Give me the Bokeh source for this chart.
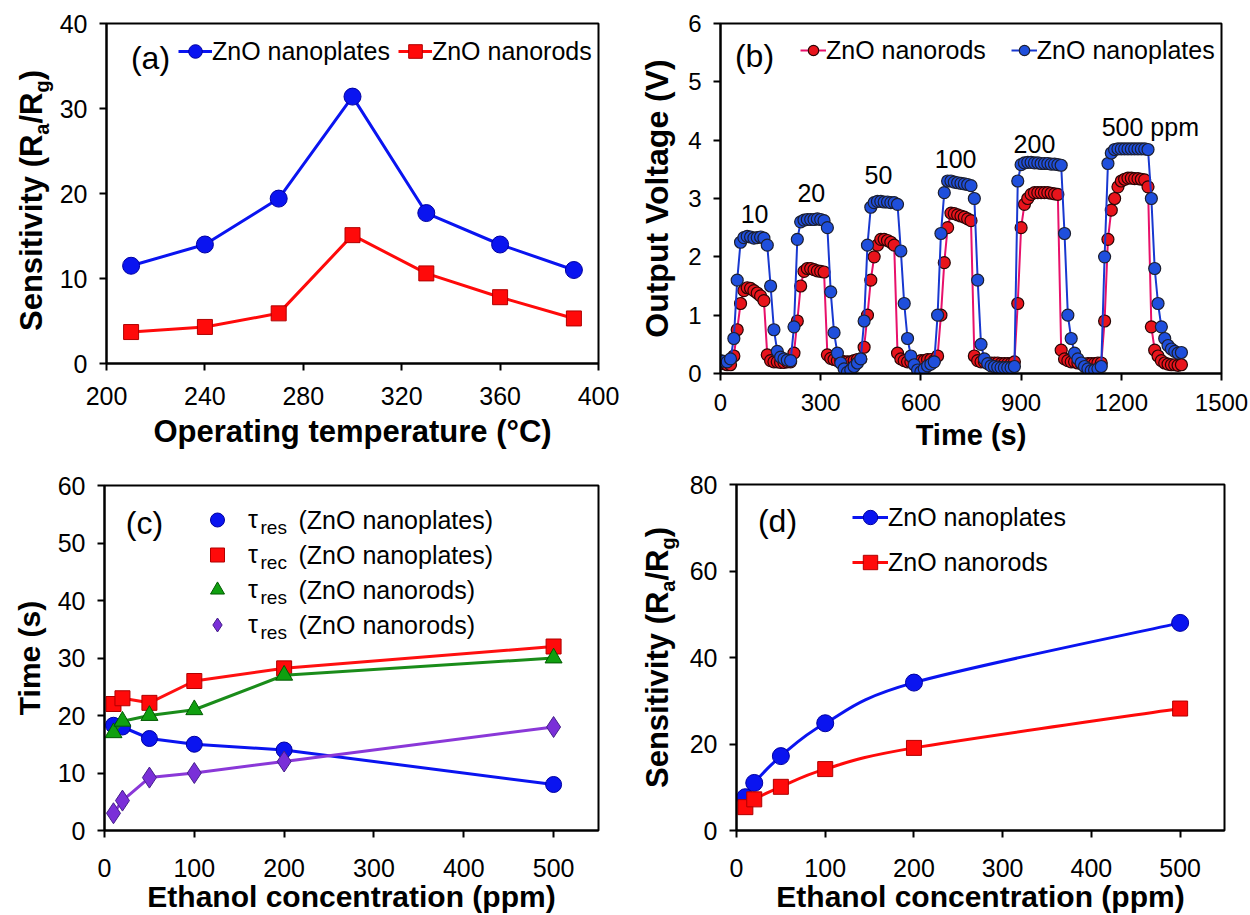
import math
from bokeh.plotting import figure
from bokeh.models import Label, Legend, LegendItem, Range1d, FixedTicker
from bokeh.layouts import column, row
from bokeh.embed import file_html
from bokeh.resources import INLINE

FONT = "Liberation Sans"

# ---------------- data: panel (a) ----------------
temperature = [210, 240, 270, 300, 330, 360, 390]
sens_plates_temp = [11.5, 14.0, 19.4, 31.4, 17.7, 14.0, 11.0]
sens_rods_temp = [3.7, 4.3, 5.9, 15.1, 10.6, 7.8, 5.3]
temp_ticks = [200, 240, 280, 320, 360, 400]
sens_temp_ticks = [0, 10, 20, 30, 40]

# ---------------- data: panel (b) ----------------
time_s = list(range(0, 1381, 10))
voltage_plates = [
    0.22, 0.21, 0.20, 0.25, 0.60, 1.60, 2.25, 2.33, 2.35, 2.34, 2.32, 2.33, 2.34, 2.32,
    2.20, 1.50, 0.75, 0.38, 0.28, 0.25, 0.23, 0.22, 0.80, 2.30, 2.60, 2.63, 2.64, 2.64,
    2.64, 2.65, 2.64, 2.62, 2.50, 1.40, 0.70, 0.35, 0.18, 0.08, 0.02, 0.06, 0.12, 0.18,
    0.25, 0.90, 2.20, 2.85, 2.93, 2.95, 2.95, 2.94, 2.94, 2.93, 2.93, 2.90, 2.10, 1.20,
    0.60, 0.30, 0.15, 0.06, 0.03, 0.08, 0.13, 0.16, 0.20, 1.00, 2.40, 3.10, 3.30, 3.30,
    3.28, 3.27, 3.26, 3.25, 3.24, 3.22, 3.00, 1.60, 0.50, 0.25, 0.17, 0.13, 0.12, 0.11,
    0.10, 0.10, 0.10, 0.10, 0.12, 3.30, 3.58, 3.61, 3.62, 3.62, 3.61, 3.61, 3.60, 3.60,
    3.60, 3.59, 3.59, 3.58, 3.57, 2.40, 1.00, 0.60, 0.35, 0.25, 0.18, 0.12, 0.08, 0.05,
    0.06, 0.08, 0.12, 2.00, 3.60, 3.78, 3.84, 3.85, 3.85, 3.85, 3.85, 3.85, 3.85, 3.85,
    3.85, 3.85, 3.84, 3.00, 1.80, 1.20, 0.80, 0.60, 0.48, 0.42, 0.38, 0.35, 0.36,
]
voltage_rods = [
    0.18, 0.17, 0.15, 0.15, 0.30, 0.75, 1.20, 1.42, 1.47, 1.46, 1.42, 1.38, 1.33, 1.25,
    0.32, 0.22, 0.20, 0.20, 0.19, 0.19, 0.20, 0.20, 0.35, 0.90, 1.50, 1.75, 1.80, 1.80,
    1.78, 1.76, 1.75, 1.74, 0.32, 0.26, 0.24, 0.22, 0.22, 0.20, 0.20, 0.20, 0.22, 0.24,
    0.25, 0.45, 1.00, 1.60, 2.00, 2.20, 2.30, 2.30, 2.28, 2.25, 2.20, 0.35, 0.25, 0.22,
    0.20, 0.20, 0.20, 0.20, 0.22, 0.22, 0.24, 0.24, 0.22, 0.30, 1.00, 1.90, 2.50, 2.75,
    2.74, 2.72, 2.70, 2.68, 2.65, 2.62, 0.30, 0.22, 0.20, 0.20, 0.18, 0.18, 0.18, 0.18,
    0.17, 0.17, 0.17, 0.17, 0.20, 1.20, 2.50, 2.90, 3.00, 3.07, 3.10, 3.10, 3.10, 3.10,
    3.10, 3.09, 3.08, 3.07, 0.40, 0.25, 0.22, 0.20, 0.20, 0.18, 0.17, 0.16, 0.17, 0.17,
    0.17, 0.18, 0.18, 0.90, 2.30, 2.80, 3.00, 3.20, 3.30, 3.33, 3.35, 3.35, 3.34, 3.34,
    3.33, 3.32, 3.20, 0.80, 0.40, 0.30, 0.22, 0.18, 0.16, 0.15, 0.15, 0.14, 0.15,
]
conc_labels = ["10", "20", "50", "100", "200", "500 ppm"]
time_ticks = [0, 300, 600, 900, 1200, 1500]
volt_ticks = [0, 1, 2, 3, 4, 5, 6]

# ---------------- data: panels (c) and (d) ----------------
ethanol_ppm = [10, 20, 50, 100, 200, 500]
tres_plates = [18.3, 18.0, 16.0, 15.0, 14.0, 8.0]
trec_plates = [22.0, 23.0, 22.2, 26.0, 28.2, 32.0]
tres_rods_tri = [17.0, 19.0, 20.0, 21.0, 27.0, 30.0]
tres_rods_dia = [3.0, 5.2, 9.2, 10.0, 12.0, 18.0]
sens_plates_conc = [7.7, 11.0, 17.2, 24.8, 34.2, 48.0]
sens_rods_conc = [5.4, 7.2, 10.1, 14.2, 19.1, 28.2]
ppm_ticks = [0, 100, 200, 300, 400, 500]
time_c_ticks = [0, 10, 20, 30, 40, 50, 60]
sens_conc_ticks = [0, 20, 40, 60, 80]

BLUE, BLUE_EDGE = "#0a14f0", "#0000a0"
RED, RED_EDGE = "#ff0a0a", "#b00000"


def make_fig(w, h, xr, yr, xt, yt, bl, br, bt, bb, tick_size="25px"):
    p = figure(width=w, height=h, x_range=Range1d(*xr), y_range=Range1d(*yr),
               output_backend="svg", toolbar_location=None, frame_align=False,
               min_border_left=bl, min_border_right=br, min_border_top=bt, min_border_bottom=bb)
    p.background_fill_color = "white"
    p.border_fill_color = "white"
    p.xgrid.visible = False
    p.ygrid.visible = False
    p.outline_line_color = "black"
    p.outline_line_width = 2
    p.xaxis.ticker = FixedTicker(ticks=xt)
    p.yaxis.ticker = FixedTicker(ticks=yt)
    for ax in (p.xaxis, p.yaxis):
        ax.axis_line_width = 2
        ax.axis_line_color = "black"
        ax.major_tick_line_width = 2
        ax.major_tick_line_color = "black"
        ax.major_tick_out = 7
        ax.major_tick_in = 0
        ax.minor_tick_out = 0
        ax.minor_tick_in = 0
        ax.major_label_text_font = FONT
        ax.major_label_text_font_size = tick_size
        ax.major_label_text_color = "black"
        ax.axis_label_text_font = FONT
        ax.axis_label_text_font_style = "bold"
        ax.axis_label_text_font_size = "31px"
        ax.axis_label_text_color = "black"
    p.xaxis.major_label_standoff = 16
    p.yaxis.major_label_standoff = 12
    return p


def label_strip(w, h):
    s = figure(width=w, height=h, x_range=Range1d(0, 1), y_range=Range1d(0, 1),
               output_backend="svg", toolbar_location=None, x_axis_type=None, y_axis_type=None,
               min_border=0, frame_align=False)
    s.outline_line_color = None
    s.background_fill_color = "white"
    s.border_fill_color = "white"
    return s


def panel_tag(p, text, x, y):
    p.add_layout(Label(x=x, y=y, x_units="screen", y_units="screen", text=text,
                       text_font=FONT, text_font_size="32px", text_align="center",
                       text_baseline="middle", text_color="black"))


def sens_ylabel(p, x_baseline, y_center, size=31):
    # rotated title "Sensitivity (Ra/Rg)" with real subscripts; x_baseline = main baseline
    sub = round(size * 0.65)
    x_main = x_baseline - 0.35 * size
    x_sub = x_baseline + 6 - 0.35 * sub
    pieces = [("Sensitivity (R", size, 6.335, x_main), ("a", sub, 0.556, x_sub),
              ("/R", size, 1.000, x_main), ("g", sub, 0.611, x_sub), (")", size, 0.333, x_main)]
    total = sum(fs * em for _, fs, em, _ in pieces)
    y = y_center - total / 2
    for txt, fs, em, xx in pieces:
        p.add_layout(Label(x=xx, y=y, x_units="screen", y_units="screen", text=txt,
                           angle=90, angle_units="deg", text_font=FONT, text_font_style="bold",
                           text_font_size=f"{fs}px", text_align="left",
                           text_baseline="middle", text_color="black"))
        y += fs * em


def style_legend(lg, size="25px"):
    lg.border_line_alpha = 0
    lg.background_fill_alpha = 0
    lg.label_text_font = FONT
    lg.label_text_font_size = size
    lg.label_text_color = "black"
    lg.padding = 0
    lg.margin = 0


# ---------------- panel (a) ----------------
ya = label_strip(56, 460)
sens_ylabel(ya, 42, 460 - 200)

pa = make_fig(564, 460, (200, 400), (0, 40), temp_ticks, sens_temp_ticks, 49, 22, 23, 97)
pa.xaxis.axis_label = "Operating temperature (°C)"
pa.xaxis.axis_label_standoff = 6
la1 = pa.line(temperature, sens_plates_temp, line_color=BLUE, line_width=3)
sa1 = pa.scatter(temperature, sens_plates_temp, marker="circle", size=17,
                 fill_color=BLUE, line_color=BLUE_EDGE, line_width=1)
la2 = pa.line(temperature, sens_rods_temp, line_color=RED, line_width=3)
sa2 = pa.scatter(temperature, sens_rods_temp, marker="square", size=15,
                 fill_color=RED, line_color=RED_EDGE, line_width=1)
lga = Legend(items=[LegendItem(label="ZnO nanoplates", renderers=[la1, sa1]),
                    LegendItem(label="ZnO nanorods", renderers=[la2, sa2])],
             location=(72, 295), orientation="horizontal", glyph_width=34, glyph_height=34,
             label_height=34, label_standoff=0, spacing=8)
style_legend(lga)
pa.add_layout(lga)
panel_tag(pa, "(a)", 44, 306)

# ---------------- panel (b) ----------------
pb = make_fig(628, 460, (0, 1500), (0, 6), time_ticks, volt_ticks, 100, 27, 23, 87, tick_size="24px")
pb.xaxis.axis_label = "Time (s)"
pb.yaxis.axis_label = "Output Voltage (V)"
pb.xaxis.major_label_standoff = 13
pb.xaxis.axis_label_standoff = 5
pb.yaxis.axis_label_standoff = 10
pb.xaxis.axis_label_text_font_size = "29px"
pb.yaxis.axis_label_text_font_size = "32px"
lb1 = pb.line(time_s, voltage_rods, line_color="#e8106a", line_width=2)
sb1 = pb.scatter(time_s, voltage_rods, marker="circle", size=12,
                 fill_color="#e8141c", line_color="#2a0505", line_width=1.2)
lb2 = pb.line(time_s, voltage_plates, line_color="#1838d0", line_width=2)
sb2 = pb.scatter(time_s, voltage_plates, marker="circle", size=12,
                 fill_color="#1f4fdc", line_color="#1c1f30", line_width=1.2)
lgb = Legend(items=[LegendItem(label="ZnO nanorods", renderers=[lb1, sb1]),
                    LegendItem(label="ZnO nanoplates", renderers=[lb2, sb2])],
             location=(80, 308), orientation="horizontal", glyph_width=26, glyph_height=30,
             label_height=30, label_standoff=0, spacing=25)
style_legend(lgb)
pb.add_layout(lgb)
panel_tag(pb, "(b)", 34, 318)
label_t = [102, 272, 473, 704, 940, 1287]
label_v = [2.74, 3.09, 3.40, 3.67, 3.94, 4.22]
for txt, tx, vy in zip(conc_labels, label_t, label_v):
    pb.add_layout(Label(x=tx, y=vy, text=txt, text_font=FONT, text_font_size="25px",
                        text_align="center", text_baseline="middle", text_color="black"))

# ---------------- panel (c) ----------------
pc = make_fig(620, 455, (0, 550), (0, 60), ppm_ticks, time_c_ticks, 104, 22, 25, 85)
pc.xaxis.axis_label = "Ethanol concentration (ppm)"
pc.yaxis.axis_label = "Time (s)"
pc.xaxis.major_label_standoff = 21
pc.xaxis.axis_label_standoff = 0
pc.xaxis.axis_label_text_font_size = "30px"
pc.yaxis.axis_label_standoff = 9
pc.yaxis.axis_label_text_font_size = "30px"
c_series = [
    (tres_plates, "circle", 16, "#0a14f0", "#0000a0", "#0a14f0"),
    (trec_plates, "square", 15, "#ff0a0a", "#b00000", "#ff1010"),
    (tres_rods_tri, "triangle", 17, "#10a010", "#005a00", "#1a8c1a"),
    (tres_rods_dia, "diamond", 21, "#7a2fd8", "#45208a", "#8a38d8"),
]
c_items = []
for vals, mk, sz, fc, ec, lc in c_series:
    pc.line(ethanol_ppm, vals, line_color=lc, line_width=3)
    r = pc.scatter(ethanol_ppm, vals, marker=mk, size=sz,
                   fill_color=fc, line_color=ec, line_width=1)
    c_items.append(LegendItem(label="τ", renderers=[r]))
lgc = Legend(items=c_items, location=(93, 188), orientation="vertical", glyph_width=40,
             glyph_height=35, label_height=35, label_standoff=11, spacing=0)
style_legend(lgc)
pc.add_layout(lgc)
c_subs = ["res", "rec", "res", "res"]
c_rest = ["(ZnO nanoplates)", "(ZnO nanoplates)", "(ZnO nanorods)", "(ZnO nanorods)"]
for i, (sb, rest) in enumerate(zip(c_subs, c_rest)):
    yc = 310.5 - 35 * i
    pc.add_layout(Label(x=156, y=yc - 7, x_units="screen", y_units="screen", text=sb,
                        text_font=FONT, text_font_size="19px", text_align="left",
                        text_baseline="middle", text_color="black"))
    pc.add_layout(Label(x=194, y=yc, x_units="screen", y_units="screen", text=rest,
                        text_font=FONT, text_font_size="25px", text_align="left",
                        text_baseline="middle", text_color="black"))
panel_tag(pc, "(c)", 40, 308)


# ---------------- panel (d) ----------------
def smooth_bezier(p, xs, ys, **kw):
    n = len(xs)
    P = list(zip(xs, ys))
    x0, y0, x1, y1, cx0, cy0, cx1, cy1 = ([] for _ in range(8))
    for i in range(n - 1):
        pm = P[max(i - 1, 0)]
        p0 = P[i]
        p1 = P[i + 1]
        p2 = P[min(i + 2, n - 1)]
        x0.append(p0[0]); y0.append(p0[1]); x1.append(p1[0]); y1.append(p1[1])
        cx0.append(p0[0] + (p1[0] - pm[0]) / 6); cy0.append(p0[1] + (p1[1] - pm[1]) / 6)
        cx1.append(p1[0] - (p2[0] - p0[0]) / 6); cy1.append(p1[1] - (p2[1] - p0[1]) / 6)
    return p.bezier(x0=x0, y0=y0, x1=x1, y1=y1, cx0=cx0, cy0=cy0, cx1=cx1, cy1=cy1, **kw)


yd = label_strip(66, 455)
sens_ylabel(yd, 48, 455 - 197)

pd = make_fig(562, 455, (0, 550), (0, 80), ppm_ticks, sens_conc_ticks, 49, 24, 24, 85)
pd.xaxis.axis_label = "Ethanol concentration (ppm)"
pd.xaxis.major_label_standoff = 21
pd.xaxis.axis_label_standoff = 0
pd.xaxis.axis_label_text_font_size = "30px"
ld1 = smooth_bezier(pd, ethanol_ppm, sens_plates_conc, line_color=BLUE, line_width=3)
sd1 = pd.scatter(ethanol_ppm, sens_plates_conc, marker="circle", size=17,
                 fill_color=BLUE, line_color=BLUE_EDGE, line_width=1)
ld2 = smooth_bezier(pd, ethanol_ppm, sens_rods_conc, line_color=RED, line_width=3)
sd2 = pd.scatter(ethanol_ppm, sens_rods_conc, marker="square", size=15,
                 fill_color=RED, line_color=RED_EDGE, line_width=1)
lgd = Legend(items=[LegendItem(label="ZnO nanoplates", renderers=[ld1, sd1]),
                    LegendItem(label="ZnO nanorods", renderers=[ld2, sd2])],
             location=(116, 250), orientation="vertical", glyph_width=36, glyph_height=36,
             label_height=36, label_standoff=0, spacing=9)
style_legend(lgd)
pd.add_layout(lgd)
panel_tag(pd, "(d)", 41, 310)

layout = column(row(ya, pa, pb), row(pc, yd, pd))
open("out.html", "w").write(file_html(layout, INLINE))
